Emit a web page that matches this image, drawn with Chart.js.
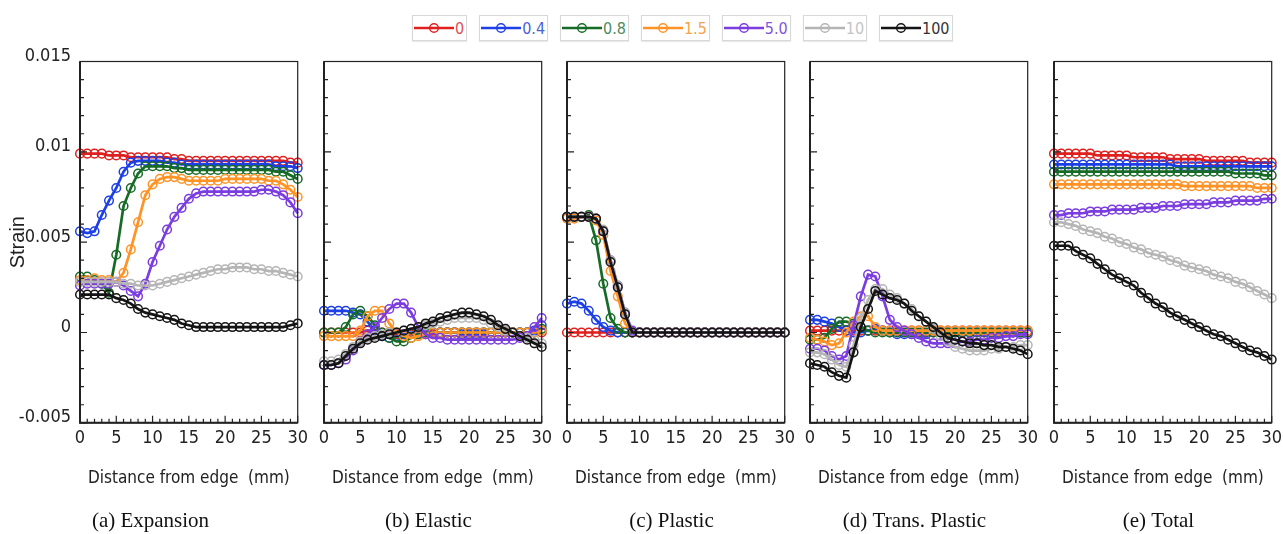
<!DOCTYPE html>
<html>
<head>
<meta charset="utf-8">
<script src="https://cdn.jsdelivr.net/npm/chart.js@4.4.1/dist/chart.umd.min.js"></script>
<style>
  html, body { margin: 0; padding: 0; background: #fff; overflow: hidden; }
  body { width: 1283px; height: 534px; position: relative; }
  canvas.panel { position: absolute; top: 0; }
  #legend { position: absolute; left: 412px; top: 15px; display: flex; gap: 12px; }
  .item {
    display: flex; align-items: center; height: 24px; background: #fff;
    border: 1px solid #d8d8d8; box-shadow: 0 1px 1px rgba(0,0,0,0.08);
    padding: 0 2px 0 1px;
    font-family: 'Liberation Sans Narrow', 'DejaVu Sans Condensed', 'Liberation Sans', sans-serif;
    font-size: 16px;
  }
  .item svg { margin-right: 1px; }
</style>
</head>
<body>
<div id="legend"></div>

<script>
// x positions (mm) shared by every series
const distance = [0, 1, 2, 3, 4, 5, 6, 7, 8, 9, 10, 11, 12, 13, 14, 15, 16, 17, 18, 19, 20, 21, 22, 23, 24, 25, 26, 27, 28, 29, 30];

const groups = ['0', '0.4', '0.8', '1.5', '5.0', '10', '100'];
const colors = ['#e0201e', '#1c3fe6', '#166b26', '#ff9326', '#7b3ce0', '#b5b5b5', '#141414'];
const textColors = ['#e05050', '#4a5fd8', '#4f8a5e', '#f7a24d', '#7f55e0', '#c4c4c4', '#333333'];

const panelTitles = ['(a) Expansion', '(b) Elastic', '(c) Plastic', '(d) Trans. Plastic', '(e) Total'];

// strain values, one row per group (0, 0.4, 0.8, 1.5, 5.0, 10, 100)
const expansion = [
  [.0099,.0099,.0099,.0099,.0098,.0098,.0098,.0097,.0097,.0097,.0097,.0097,.0097,.0096,.0096,.0095,.0095,.0095,.0095,.0095,.0095,.0095,.0095,.0095,.0095,.0095,.0095,.0095,.0095,.0094,.0094],
  [.0056,.0055,.0056,.0065,.0073,.0080,.0089,.0094,.0095,.0095,.0095,.0095,.0094,.0094,.0093,.0093,.0093,.0093,.0093,.0093,.0093,.0093,.0093,.0093,.0093,.0093,.0093,.0092,.0092,.0092,.0091],
  [.0031,.0031,.0029,.0027,.0022,.0043,.0070,.0080,.0088,.0092,.0092,.0092,.0092,.0091,.0091,.0090,.0090,.0090,.0090,.0090,.0090,.0090,.0090,.0090,.0090,.0090,.0090,.0089,.0089,.0087,.0085],
  [.0029,.0029,.0030,.0029,.0029,.0028,.0033,.0046,.0061,.0076,.0082,.0085,.0086,.0086,.0085,.0084,.0084,.0084,.0084,.0084,.0085,.0085,.0085,.0085,.0085,.0085,.0084,.0084,.0082,.0079,.0075],
  [.0026,.0027,.0027,.0027,.0027,.0028,.0026,.0023,.0020,.0027,.0039,.0048,.0057,.0064,.0069,.0074,.0077,.0078,.0078,.0078,.0078,.0078,.0078,.0078,.0078,.0079,.0079,.0078,.0076,.0072,.0066],
  [.0028,.0028,.0028,.0028,.0028,.0028,.0027,.0027,.0026,.0026,.0026,.0027,.0028,.0029,.0030,.0031,.0032,.0033,.0034,.0035,.0035,.0036,.0036,.0036,.0035,.0035,.0034,.0034,.0033,.0032,.0031],
  [.0021,.0021,.0021,.0021,.0021,.0019,.0018,.0016,.0013,.0011,.0010,.0009,.0008,.0007,.0005,.0004,.0003,.0003,.0003,.0003,.0003,.0003,.0003,.0003,.0003,.0003,.0003,.0003,.0003,.0004,.0005]
];

const elastic = [
  [0,0,0,0,0,0,.0001,.0001,0,0,-.0001,-.0001,-.0001,-.0001,-.0001,-.0001,0,0,0,0,0,0,0,0,0,0,0,0,0,0,0],
  [.0012,.0012,.0012,.0012,.0011,.0010,.0006,.0001,-.0002,-.0003,-.0002,-.0001,0,0,0,0,0,0,0,-.0001,-.0001,-.0001,-.0001,0,0,0,0,0,0,.0001,.0004],
  [0,0,0,.0003,.0010,.0012,.0009,.0004,0,-.0003,-.0005,-.0005,-.0003,-.0001,0,0,0,0,0,0,0,0,0,0,0,0,0,0,0,0,.0002],
  [-.0002,-.0002,-.0002,-.0002,-.0002,.0001,.0009,.0012,.0012,.0005,0,-.0002,-.0003,-.0002,-.0001,0,0,0,0,0,0,0,0,0,0,0,0,0,0,0,.0001],
  [-.0018,-.0018,-.0017,-.0015,-.0010,-.0005,-.0001,.0003,.0008,.0013,.0016,.0016,.0011,.0003,-.0001,-.0003,-.0003,-.0004,-.0004,-.0004,-.0004,-.0004,-.0004,-.0004,-.0004,-.0004,-.0004,-.0003,-.0002,.0003,.0008],
  [-.0016,-.0016,-.0015,-.0012,-.0008,-.0005,-.0003,-.0002,-.0001,0,0,.0001,.0002,.0003,.0004,.0005,.0006,.0007,.0008,.0008,.0008,.0008,.0007,.0005,.0003,.0001,0,-.0002,-.0003,-.0004,-.0006],
  [-.0018,-.0018,-.0017,-.0013,-.0009,-.0006,-.0004,-.0003,-.0002,-.0001,0,.0001,.0002,.0003,.0005,.0006,.0008,.0009,.0010,.0011,.0011,.0010,.0009,.0007,.0004,.0002,0,-.0002,-.0004,-.0006,-.0008]
];

const plastic = [
  [0,0,0,0,0,0,0,0,0,0,0,0,0,0,0,0,0,0,0,0,0,0,0,0,0,0,0,0,0,0,0],
  [.0016,.0017,.0016,.0012,.0007,.0003,.0001,0,0,0,0,0,0,0,0,0,0,0,0,0,0,0,0,0,0,0,0,0,0,0,0],
  [.0064,.0064,.0064,.0065,.0051,.0027,.0008,.0002,0,0,0,0,0,0,0,0,0,0,0,0,0,0,0,0,0,0,0,0,0,0,0],
  [.0063,.0063,.0064,.0064,.0062,.0054,.0034,.0020,.0005,0,0,0,0,0,0,0,0,0,0,0,0,0,0,0,0,0,0,0,0,0,0],
  [.0064,.0064,.0064,.0064,.0063,.0056,.0040,.0026,.0011,.0001,0,0,0,0,0,0,0,0,0,0,0,0,0,0,0,0,0,0,0,0,0],
  [.0064,.0064,.0064,.0064,.0063,.0057,.0040,.0026,.0011,0,0,0,0,0,0,0,0,0,0,0,0,0,0,0,0,0,0,0,0,0,0],
  [.0064,.0064,.0064,.0064,.0063,.0056,.0039,.0025,.0010,0,0,0,0,0,0,0,0,0,0,0,0,0,0,0,0,0,0,0,0,0,0]
];

const transPlastic = [
  [.0001,.0001,.0001,.0001,.0001,.0001,.0001,.0001,.0001,.0001,.0001,.0001,.0001,.0001,.0001,.0001,.0001,.0001,.0001,.0001,.0001,.0001,.0001,.0001,.0001,.0001,.0001,.0001,.0001,.0001,.0001],
  [.0007,.0007,.0006,.0005,.0003,.0001,0,0,.0001,.0002,.0001,0,-.0001,-.0001,-.0001,-.0001,-.0001,0,0,0,0,0,0,0,0,0,0,0,0,0,0],
  [-.0004,-.0004,-.0003,.0002,.0006,.0006,.0005,.0003,.0001,0,0,0,0,0,0,0,0,0,0,0,0,0,0,0,0,0,0,0,0,0,0],
  [-.0003,-.0004,-.0005,-.0007,-.0006,0,.0006,.0009,.0009,.0003,.0001,.0001,.0001,.0001,.0001,.0001,.0001,.0001,.0001,.0001,.0001,.0001,.0001,.0001,.0001,.0001,.0001,.0001,.0001,.0001,.0001],
  [-.0009,-.0009,-.0010,-.0013,-.0015,-.0013,.0004,.0020,.0032,.0031,.0020,.0007,.0003,.0001,-.0001,-.0003,-.0005,-.0006,-.0006,-.0006,-.0006,-.0005,-.0005,-.0004,-.0004,-.0003,-.0003,-.0002,-.0002,-.0001,-.0001],
  [-.0011,-.0011,-.0012,-.0015,-.0018,-.0019,-.0007,.0008,.0018,.0024,.0024,.0021,.0019,.0016,.0013,.0009,.0006,.0002,-.0002,-.0005,-.0008,-.0009,-.0010,-.0010,-.0010,-.0009,-.0009,-.0008,-.0008,-.0007,-.0007],
  [-.0017,-.0018,-.0019,-.0022,-.0024,-.0025,-.0011,.0003,.0013,.0023,.0021,.0019,.0018,.0016,.0012,.0009,.0006,.0003,0,-.0003,-.0004,-.0005,-.0006,-.0006,-.0007,-.0007,-.0008,-.0008,-.0009,-.0010,-.0012]
];

const total = [
  [.0099,.0099,.0099,.0099,.0099,.0099,.0098,.0098,.0098,.0098,.0098,.0097,.0097,.0097,.0097,.0097,.0096,.0096,.0096,.0096,.0096,.0095,.0095,.0095,.0095,.0095,.0095,.0094,.0094,.0094,.0094],
  [.0093,.0093,.0093,.0093,.0093,.0093,.0093,.0093,.0093,.0093,.0093,.0093,.0093,.0093,.0093,.0093,.0093,.0092,.0092,.0092,.0092,.0092,.0092,.0092,.0092,.0092,.0092,.0092,.0092,.0092,.0092],
  [.0089,.0089,.0089,.0089,.0089,.0089,.0089,.0089,.0089,.0089,.0089,.0089,.0089,.0089,.0089,.0089,.0089,.0089,.0089,.0089,.0089,.0089,.0089,.0089,.0089,.0088,.0088,.0088,.0088,.0087,.0087],
  [.0082,.0082,.0082,.0082,.0082,.0082,.0082,.0082,.0082,.0082,.0082,.0082,.0082,.0082,.0082,.0082,.0082,.0082,.0081,.0081,.0081,.0081,.0081,.0081,.0081,.0081,.0081,.0081,.0080,.0080,.0080],
  [.0065,.0065,.0066,.0066,.0066,.0067,.0067,.0067,.0068,.0068,.0068,.0068,.0069,.0069,.0069,.0070,.0070,.0070,.0071,.0071,.0071,.0071,.0072,.0072,.0072,.0073,.0073,.0073,.0073,.0074,.0074],
  [.0061,.0061,.0060,.0059,.0057,.0056,.0055,.0053,.0052,.0050,.0049,.0047,.0046,.0044,.0043,.0042,.0040,.0039,.0037,.0036,.0035,.0034,.0032,.0031,.0030,.0028,.0027,.0025,.0023,.0021,.0019],
  [.0048,.0048,.0048,.0045,.0043,.0041,.0038,.0035,.0032,.0030,.0028,.0026,.0022,.0019,.0016,.0014,.0011,.0009,.0007,.0005,.0003,.0001,-.0001,-.0002,-.0004,-.0006,-.0008,-.0010,-.0011,-.0013,-.0015]
];

const panels = [expansion, elastic, plastic, transPlastic, total];

// layout of the plot boxes on the page
const plotLefts = [80, 324, 567, 810, 1054];
const plotWidth = 221;
const NARROW = "'Liberation Sans Narrow', 'DejaVu Sans Condensed', 'Liberation Sans', sans-serif";

// legend
const legendEl = document.getElementById('legend');
groups.forEach((g, j) => {
  const item = document.createElement('div');
  item.className = 'item';
  item.innerHTML =
    '<svg width="40" height="14"><line x1="0" y1="7" x2="40" y2="7" stroke="' + colors[j] + '" stroke-width="2.6"/>' +
    '<circle cx="20" cy="7" r="4.3" fill="none" stroke="' + colors[j] + '" stroke-width="1.4"/></svg>' +
    '<span style="color:' + textColors[j] + '">' + g + '</span>';
  legendEl.appendChild(item);
});

// box with inward ticks, like the original plots
const frame = {
  id: 'frame',
  afterDatasetsDraw(chart) {
    const { ctx, chartArea: a, scales: { x, y } } = chart;
    ctx.save();
    ctx.strokeStyle = '#222';
    ctx.lineWidth = 1.2;
    ctx.beginPath();
    for (let d = 0; d <= 30; d++) {
      const px = x.getPixelForValue(d);
      const len = d % 5 === 0 ? 7 : 4;
      ctx.moveTo(px, a.bottom);
      ctx.lineTo(px, a.bottom - len);
    }
    for (let k = -5; k <= 15; k++) {
      const py = y.getPixelForValue(k / 1000);
      const len = k % 5 === 0 ? 7 : 4;
      ctx.moveTo(a.left, py);
      ctx.lineTo(a.left + len, py);
    }
    ctx.stroke();
    ctx.strokeRect(a.left, a.top, a.right - a.left, a.bottom - a.top);
    ctx.lineWidth = 2;
    ctx.beginPath();
    ctx.moveTo(a.left, a.top);
    ctx.lineTo(a.left, a.bottom);
    ctx.lineTo(a.right, a.bottom);
    ctx.stroke();
    ctx.restore();
  }
};

panels.forEach((panel, i) => {
  const yW = i === 0 ? 80 : 12;
  const canvas = document.createElement('canvas');
  canvas.className = 'panel';
  canvas.width = yW + plotWidth + 12;
  canvas.height = 534;
  canvas.style.left = (plotLefts[i] - yW) + 'px';
  document.body.appendChild(canvas);

  new Chart(canvas, {
    type: 'line',
    data: {
      datasets: groups.map((g, j) => ({
        label: g,
        data: panel[j].map((v, k) => ({ x: distance[k], y: v })),
        borderColor: colors[j],
        borderWidth: 2.7,
        pointRadius: 4.3,
        pointBorderWidth: 1.5,
        pointBackgroundColor: 'rgba(0,0,0,0)',
        pointBorderColor: colors[j],
        tension: 0,
        clip: false,
        order: groups.length - j
      }))
    },
    options: {
      responsive: false,
      animation: false,
      layout: { padding: { top: 61.5, right: 12, bottom: 0, left: 0 } },
      plugins: {
        legend: { display: false },
        tooltip: { enabled: false },
        title: {
          display: true,
          position: 'bottom',
          text: panelTitles[i],
          color: '#111',
          font: { family: "'Liberation Serif', serif", size: 21, weight: 'normal' },
          padding: { top: 2, bottom: 0 }
        }
      },
      scales: {
        x: {
          type: 'linear',
          min: 0,
          max: 30,
          grid: { display: false, drawTicks: false },
          border: { display: false },
          ticks: { stepSize: 5, padding: 5, maxRotation: 0, color: '#222', font: { family: NARROW, size: 18 } },
          title: {
            display: true,
            text: 'Distance from edge  (mm)',
            color: '#222',
            font: { family: NARROW, size: 17 },
            padding: { top: 0, bottom: 18 }
          },
          afterFit: (s) => { s.height = 84; }
        },
        y: {
          min: -0.005,
          max: 0.015,
          grid: { display: false, drawTicks: false },
          border: { display: false },
          ticks: {
            display: i === 0,
            stepSize: 0.005,
            padding: 9,
            labelOffset: -5,
            color: '#222',
            font: { family: NARROW, size: 18 },
            callback: (v) => String(Number(v.toFixed(4)))
          },
          title: {
            display: i === 0,
            text: 'Strain',
            color: '#222',
            font: { family: "'Liberation Sans', sans-serif", size: 20 },
            padding: { top: 6, bottom: 0 }
          },
          afterFit: (s) => { s.width = yW; }
        }
      }
    },
    plugins: [frame]
  });
});
</script>
</body>
</html>
